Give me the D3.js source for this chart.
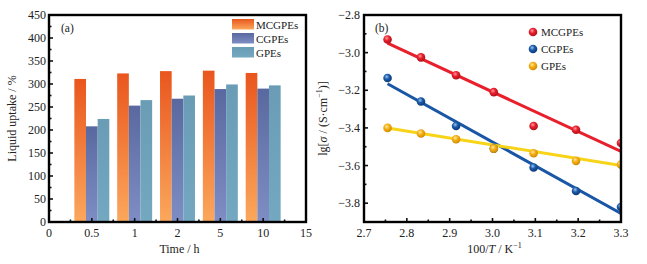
<!DOCTYPE html>
<html><head><meta charset="utf-8">
<script src="https://cdn.jsdelivr.net/npm/d3@7"></script>
<style>body{margin:0;background:#fff}svg{display:block}text{font-family:"Liberation Serif","Times New Roman",serif;fill:#222}</style>
</head><body><svg id="c" width="647" height="264" font-family="Liberation Serif"></svg>
<script>
// ---- Panel (a) data ----
const times = ["0.5", "1", "2", "5", "10"];
const seriesA = ["MCGPEs", "CGPEs", "GPEs"];
const mcgpeUptake = [311, 323, 328, 329, 324];
const cgpeUptake = [208, 253, 268, 289, 290];
const gpeUptake = [224, 265, 275, 299, 297];
const xTicksA = [0, 2.5, 5, 7.5, 10, 12.5, 15];
const xTickLabelsA = ["0", "0.5", "1", "2", "5", "10", "15"];
const yTicksA = [0, 50, 100, 150, 200, 250, 300, 350, 400, 450];

// ---- Panel (b) data ----
const invT = [2.755, 2.833, 2.915, 3.003, 3.096, 3.195, 3.300];
const mcgpeLg = [-2.93, -3.025, -3.12, -3.21, -3.39, -3.41, -3.48];
const cgpeLg = [-3.135, -3.26, -3.39, -3.51, -3.61, -3.735, -3.82];
const gpeLg = [-3.40, -3.43, -3.46, -3.51, -3.535, -3.575, -3.595];
const fitX = [2.755, 3.3];
const mcgpeFit = [-2.95, -3.525];
const cgpeFit = [-3.165, -3.855];
const gpeFit = [-3.40, -3.60];
const yTicksB = [-3.8, -3.6, -3.4, -3.2, -3.0, -2.8];
const xTicksB = [2.7, 2.8, 2.9, 3.0, 3.1, 3.2, 3.3];

const svg = d3.select("#c");
const defs = svg.append("defs");
const fmtMinus = s => s.replace("-", "\u2212");
const TICK_FS = 12, LBL_FS = 12, LEG_FS = 11;

// bar gradients
const barGrads = [
  {id:"gOr", top:"#e9561e", bot:"#fba85c"},
  {id:"gBl", top:"#5a68a0", bot:"#7e8ec4"},
  {id:"gTe", top:"#6a9db5", bot:"#73a8c0"}
];
barGrads.forEach(g => {
  const lg = defs.append("linearGradient").attr("id", g.id).attr("x1",0).attr("y1",0).attr("x2",0).attr("y2",1);
  lg.append("stop").attr("offset","0%").attr("stop-color", g.top);
  lg.append("stop").attr("offset","100%").attr("stop-color", g.bot);
});
// sphere gradients
const sph = [
  {id:"sR", base:"#e8202c", hi:"#ff9aa0", dark:"#b0101a"},
  {id:"sB", base:"#1a5aa8", hi:"#9cc4f0", dark:"#0d3a78"},
  {id:"sY", base:"#f5b015", hi:"#ffe9a0", dark:"#d08a00"}
];
sph.forEach(s => {
  const rg = defs.append("radialGradient").attr("id", s.id).attr("cx","40%").attr("cy","35%").attr("r","65%");
  rg.append("stop").attr("offset","0%").attr("stop-color", s.hi);
  rg.append("stop").attr("offset","45%").attr("stop-color", s.base);
  rg.append("stop").attr("offset","100%").attr("stop-color", s.dark);
});

// ================= Panel (a) =================
const A = {l:49, r:306, t:15, b:222};
const xa = d3.scaleLinear().domain([0,15]).range([A.l, A.r]);
const ya = d3.scaleLinear().domain([0,450]).range([A.b, A.t]);
const gA = svg.append("g");
const barW = xa(0.68) - xa(0);
const allA = [mcgpeUptake, cgpeUptake, gpeUptake];
allA.forEach((vals, si) => {
  gA.selectAll(null).data(vals).enter().append("rect")
    .attr("x", (d,i) => xa(2.5*(i+1)) + (si - 1.5) * barW)
    .attr("y", d => ya(d))
    .attr("width", barW)
    .attr("height", d => ya(0) - ya(d))
    .attr("fill", `url(#${barGrads[si].id})`);
});
// ticks (inward)
const tickA = gA.append("g").attr("stroke","#111").attr("stroke-width",1.6);
d3.range(0, 15.01, 1.25).forEach(v => {
  const major = Math.abs(v/2.5 - Math.round(v/2.5)) < 1e-6;
  tickA.append("line").attr("x1", xa(v)).attr("x2", xa(v)).attr("y1", A.b).attr("y2", A.b - (major?4:2.5));
});
d3.range(0, 450.1, 25).forEach(v => {
  const major = v % 50 === 0;
  tickA.append("line").attr("x1", A.l).attr("x2", A.l + (major?4:2.5)).attr("y1", ya(v)).attr("y2", ya(v));
});
gA.append("rect").attr("x",A.l).attr("y",A.t).attr("width",A.r-A.l).attr("height",A.b-A.t)
  .attr("fill","none").attr("stroke","#000").attr("stroke-width",2.4);
gA.selectAll(null).data(xTicksA).enter().append("text")
  .attr("x", d => xa(d)).attr("y", A.b + 15).attr("text-anchor","middle").attr("font-size",TICK_FS)
  .text((d,i) => xTickLabelsA[i]);
gA.selectAll(null).data(yTicksA).enter().append("text")
  .attr("x", A.l - 3).attr("y", d => ya(d) + 4).attr("text-anchor","end").attr("font-size",TICK_FS)
  .text(d => d);
gA.append("text").attr("x", (A.l+A.r)/2 + 2).attr("y", 253).attr("text-anchor","middle").attr("font-size",LBL_FS).text("Time / h");
gA.append("text").attr("transform", `translate(16,${(A.t+A.b)/2}) rotate(-90)`).attr("text-anchor","middle").attr("font-size",LBL_FS).text("Liquid uptake / %");
gA.append("text").attr("x", 61).attr("y", 32).attr("font-size",11.5).text("(a)");
// legend
seriesA.forEach((s, i) => {
  const ly = 19 + i*14;
  gA.append("rect").attr("x", 232).attr("y", ly).attr("width", 22).attr("height", 10.5).attr("fill", `url(#${barGrads[i].id})`);
  gA.append("text").attr("x", 256).attr("y", ly + 9.5).attr("font-size",LEG_FS).text(s);
});

// ================= Panel (b) =================
const B = {l:364, r:621, t:15, b:222};
const xb = d3.scaleLinear().domain([2.7,3.3]).range([B.l, B.r]);
const yb = d3.scaleLinear().domain([-3.9,-2.8]).range([B.b, B.t]);
const gB = svg.append("g");
defs.append("clipPath").attr("id","clipB").append("rect").attr("x",B.l).attr("y",B.t).attr("width",B.r-B.l).attr("height",B.b-B.t);
const plotB = gB.append("g").attr("clip-path","url(#clipB)");
const seriesB = [
  {name:"MCGPEs", vals:mcgpeLg, fit:mcgpeFit, line:"#e8202c", grad:"sR"},
  {name:"CGPEs", vals:cgpeLg, fit:cgpeFit, line:"#1a56a6", grad:"sB"},
  {name:"GPEs", vals:gpeLg, fit:gpeFit, line:"#f7d417", grad:"sY"}
];
const lineGen = d3.line().x(d => xb(d[0])).y(d => yb(d[1]));
seriesB.forEach(s => {
  plotB.append("path").datum(fitX.map((x,i) => [x, s.fit[i]]))
    .attr("d", lineGen).attr("stroke", s.line).attr("stroke-width", 3).attr("fill","none");
});
seriesB.forEach(s => {
  plotB.selectAll(null).data(s.vals).enter().append("circle")
    .attr("cx", (d,i) => xb(invT[i])).attr("cy", d => yb(d)).attr("r", 4.3)
    .attr("fill", `url(#${s.grad})`);
});
const tickB = gB.append("g").attr("stroke","#111").attr("stroke-width",1.6);
d3.range(0, 13).forEach(k => {
  const v = 2.7 + k*0.05;
  tickB.append("line").attr("x1", xb(v)).attr("x2", xb(v)).attr("y1", B.b).attr("y2", B.b - (k%2===0?4:2.5));
});
d3.range(0, 12).forEach(k => {
  const v = -3.9 + k*0.1;
  const major = k % 2 === 1;
  tickB.append("line").attr("x1", B.l).attr("x2", B.l + (major?4:2.5)).attr("y1", yb(v)).attr("y2", yb(v));
});
gB.append("rect").attr("x",B.l).attr("y",B.t).attr("width",B.r-B.l).attr("height",B.b-B.t)
  .attr("fill","none").attr("stroke","#000").attr("stroke-width",2.4);
gB.selectAll(null).data(xTicksB).enter().append("text")
  .attr("x", d => xb(d)).attr("y", B.b + 15).attr("text-anchor","middle").attr("font-size",TICK_FS)
  .text(d => d.toFixed(1));
gB.selectAll(null).data(yTicksB).enter().append("text")
  .attr("x", B.l - 4).attr("y", d => yb(d) + 4).attr("text-anchor","end").attr("font-size",TICK_FS)
  .text(d => fmtMinus(d.toFixed(1)));
const xl = gB.append("text").attr("x", (B.l+B.r)/2 + 2).attr("y", 253).attr("text-anchor","middle").attr("font-size",LBL_FS);
xl.append("tspan").text("100/");
xl.append("tspan").attr("font-style","italic").text("T");
xl.append("tspan").text(" / K");
xl.append("tspan").attr("font-size",8).attr("dy",-5).text("\u22121");
const yl = gB.append("text").attr("transform", `translate(327,${(B.t+B.b)/2}) rotate(-90)`).attr("text-anchor","middle").attr("font-size",LBL_FS);
yl.append("tspan").text("lg[");
yl.append("tspan").attr("font-style","italic").text("\u03c3");
yl.append("tspan").text(" / (S\u00b7cm");
yl.append("tspan").attr("font-size",8).attr("dy",-5).text("\u22121");
yl.append("tspan").attr("dy",5).text(")]");
gB.append("text").attr("x", 375).attr("y", 32).attr("font-size",11.5).text("(b)");
seriesB.forEach((s, i) => {
  const ly = 32 + i*17;
  gB.append("circle").attr("cx", 533).attr("cy", ly).attr("r", 4.3).attr("fill", `url(#${s.grad})`);
  gB.append("text").attr("x", 541).attr("y", ly + 4).attr("font-size",LEG_FS).text(s.name);
});
</script></body></html>
